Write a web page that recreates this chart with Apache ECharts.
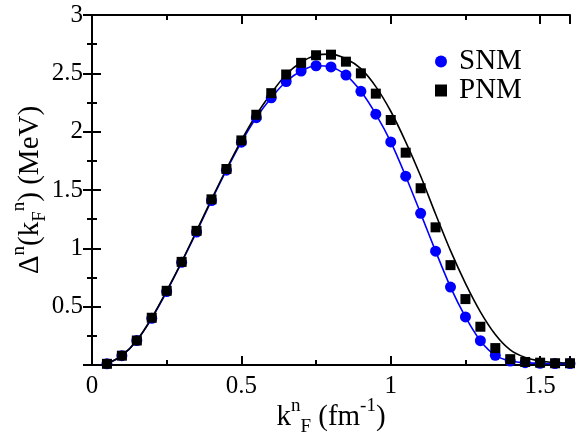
<!DOCTYPE html>
<html>
<head>
<meta charset="utf-8">
<script src="https://cdn.jsdelivr.net/npm/echarts@6/dist/echarts.min.js"></script>
<style>html,body{margin:0;padding:0;background:#fff}#c{width:576px;height:436px}</style>
</head>
<body>
<div id="c"></div>
<script>
// k_F^n values (fm^-1)
const kF = [0.05,0.10,0.15,0.20,0.25,0.30,0.35,0.40,0.45,0.50,0.55,0.60,0.65,0.70,0.75,0.80,
            0.85,0.90,0.95,1.00,1.05,1.10,1.15,1.20,1.25,1.30,1.35,1.40,1.45,1.50,1.55,1.60];
// SNM points (blue circles)
const snmPts = [0.01,0.08,0.21,0.40,0.63,0.88,1.14,1.41,1.67,1.91,2.12,2.29,2.43,2.52,2.565,2.555,
                2.485,2.346,2.15,1.912,1.618,1.30,0.976,0.668,0.412,0.208,0.083,0.034,0.02,0.015,0.012,0.012];
// PNM points (black squares)
const pnmPts = [0.01,0.08,0.21,0.405,0.636,0.884,1.15,1.42,1.68,1.925,2.145,2.33,2.49,2.59,2.655,2.66,
                2.60,2.50,2.326,2.10,1.82,1.515,1.18,0.856,0.565,0.328,0.145,0.05,0.026,0.02,0.015,0.015];
// fit curves
const snmFit = [0.01,0.08,0.21,0.40,0.63,0.88,1.14,1.41,1.67,1.91,2.12,2.29,2.43,2.52,2.565,2.555,
                2.485,2.346,2.15,1.912,1.618,1.30,0.976,0.668,0.412,0.208,0.083,0.034,0.02,0.015,0.012,0.012];
const pnmFit = [0.01,0.08,0.21,0.405,0.636,0.884,1.15,1.42,1.68,1.925,2.145,2.33,2.49,2.595,2.655,2.665,
                2.625,2.54,2.386,2.175,1.913,1.62,1.294,0.98,0.70,0.456,0.262,0.13,0.065,0.035,0.022,0.017];
const legendNames = ['SNM','PNM'];

const FONT = "'Liberation Serif', 'Times New Roman', serif";
const pair = (xs, ys) => xs.map((x,i)=>[x, ys[i]]);
const axLine = {show:true, lineStyle:{color:'#000', width:2}};
const xLab = v => (Math.abs(v*2 - Math.round(v*2)) < 1e-6 ? String(v) : '');
const yLab = v => (v === 0 ? '' : String(v));

const chart = echarts.init(document.getElementById('c'), null, {renderer:'canvas'});
const titleRich = {
  m:{fontFamily:FONT, fontSize:29, color:'#000', lineHeight:40},
  sup:{fontFamily:FONT, fontSize:19, color:'#000', lineHeight:20, verticalAlign:'top'},
  sub:{fontFamily:FONT, fontSize:19, color:'#000', lineHeight:16, verticalAlign:'bottom'}
};
chart.setOption({
  animation:false,
  backgroundColor:'#fff',
  textStyle:{fontFamily:FONT},
  grid:{left:92, top:15, right:6, bottom:71, containLabel:false, outerBoundsMode:'none'},
  legend:{
    data:[{name:legendNames[0], icon:'circle'},{name:legendNames[1], icon:'rect'}],
    orient:'vertical', left:430, top:42, itemWidth:12, itemHeight:12, itemGap:0,
    textStyle:{fontFamily:FONT, fontSize:29, color:'#000', lineHeight:26, padding:[0,0,0,7]}
  },
  xAxis:[
    {type:'value', min:0, max:1.6, interval:0.5, position:'bottom',
     axisLine:axLine, splitLine:{show:false},
     axisTick:{inside:true, length:9, lineStyle:{color:'#000', width:2}},
     axisLabel:{formatter:xLab, fontFamily:FONT, fontSize:25, color:'#000', margin:9},
     name:'{m|k}{sup|n}{sub|F}{m| (fm}{sup|-1}{m|)}', nameLocation:'middle', nameGap:32,
     nameMoveOverlap:false,
     nameTextStyle:{rich:titleRich}},
    {type:'value', min:0, max:1.6, interval:0.25, position:'bottom',
     axisLine:{show:false}, splitLine:{show:false}, axisLabel:{show:false},
     axisTick:{inside:true, length:5, lineStyle:{color:'#000', width:2}}},
    {type:'value', min:0, max:1.6, interval:0.5, position:'top',
     axisLine:axLine, splitLine:{show:false}, axisLabel:{show:false},
     axisTick:{inside:true, length:9, lineStyle:{color:'#000', width:2}}},
    {type:'value', min:0, max:1.6, interval:0.25, position:'top',
     axisLine:{show:false}, splitLine:{show:false}, axisLabel:{show:false},
     axisTick:{inside:true, length:5, lineStyle:{color:'#000', width:2}}}
  ],
  yAxis:[
    {type:'value', min:0, max:3, interval:0.5, position:'left',
     axisLine:axLine, splitLine:{show:false},
     axisTick:{inside:true, length:9, lineStyle:{color:'#000', width:2}},
     minorTick:{show:true, splitNumber:2, length:5, lineStyle:{color:'#000', width:2}},
     minorSplitLine:{show:false},
     axisLabel:{formatter:yLab, fontFamily:FONT, fontSize:25, color:'#000', margin:9},
     name:'{m|Δ}{sup|n}{m|(k}{sub|F}{sup|n}{m|) (MeV)}', nameLocation:'middle', nameGap:42,
     nameMoveOverlap:false,
     nameRotate:90, nameTextStyle:{rich:titleRich}},
    {type:'value', min:0, max:3, interval:0.5, position:'right',
     axisLine:axLine, splitLine:{show:false}, axisLabel:{show:false},
     axisTick:{inside:true, length:9, lineStyle:{color:'#000', width:2}},
     minorTick:{show:true, splitNumber:2, length:5, lineStyle:{color:'#000', width:2}}}
  ],
  series:[
    {type:'line', data:pair(kF, snmFit), smooth:0.3, symbol:'none', silent:true,
     lineStyle:{color:'#0000ff', width:1.6}, z:2},
    {type:'line', data:pair(kF, pnmFit), smooth:0.3, symbol:'none', silent:true,
     lineStyle:{color:'#000', width:1.6}, z:2},
    {name:legendNames[0], type:'scatter', data:pair(kF, snmPts), symbol:'circle', symbolSize:11,
     itemStyle:{color:'#0000ff', opacity:1}, z:3},
    {name:legendNames[1], type:'scatter', data:pair(kF, pnmPts), symbol:'rect', symbolSize:10,
     itemStyle:{color:'#000', opacity:1}, z:4}
  ]
});
</script>
</body>
</html>
